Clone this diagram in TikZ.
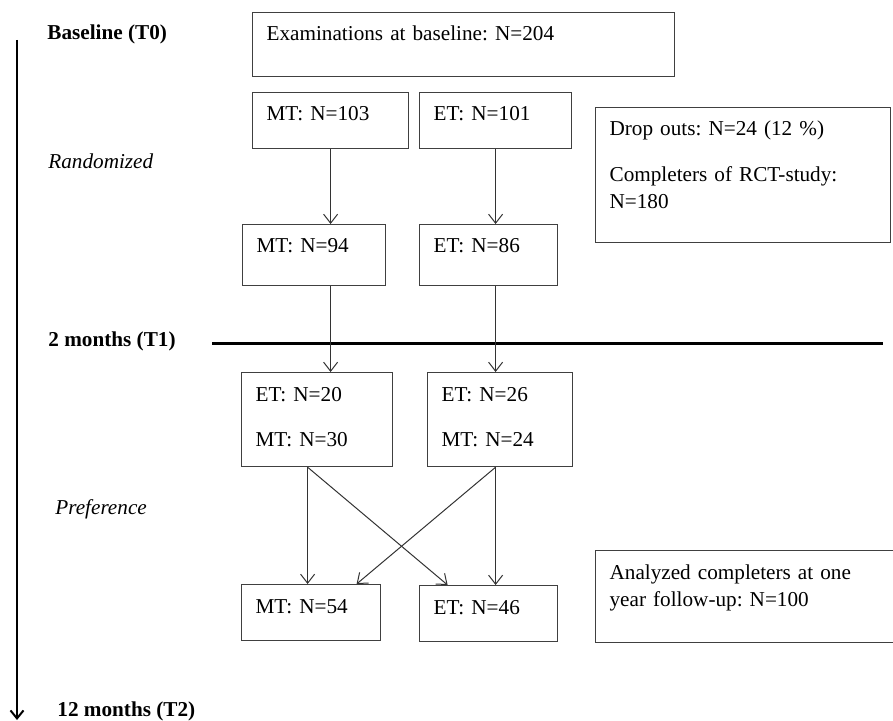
\documentclass[tikz,border=0pt]{standalone}
\usepackage{fontspec}
\setmainfont{Liberation Serif}
\usepackage{tikz}
\usetikzlibrary{arrows.meta,positioning}
\frenchspacing

\begin{document}
\begin{tikzpicture}[
  x=0.5pt, y=-0.5pt,
  font=\fontsize{10.6}{13.5}\selectfont,
  box/.style={draw=black!75, line width=0.6pt, anchor=north west, inner sep=7pt,
              align=left, text height=7.2pt},
  arr/.style={-{Straight Barb[length=4.5pt,width=7pt]}, draw=black!80, line width=0.5pt},
  axis/.style={-{Straight Barb[length=4pt,width=6.5pt]}, line width=1pt},
  phase/.style={anchor=base west, inner sep=0pt, font=\fontsize{10.6}{13.5}\selectfont\bfseries},
  stage/.style={anchor=base west, inner sep=0pt, font=\fontsize{10.6}{13.5}\selectfont\itshape}
]
\useasboundingbox (0,0) rectangle (893,721);

% Time axis
\coordinate (axtop) at (17,40);
\coordinate (axbot) at (17,720);
\draw[axis] (axtop) -- (axbot);
\node[phase] (t0) at (47,40) {Baseline (T0)};
\node[stage] (rand) at (48,169) {Randomized};
\node[phase] (t1) at (48,346) {2 months (T1)};
\node[stage] (pref) at (55,514) {Preference};
\node[phase] (t2) at (57,716) {12 months (T2)};

% Randomized part
\node[box, text width=197pt, text depth=10.8pt] (exam) at (252,12) {Examinations at baseline: N=204};
\node[box, text width=64pt, text depth=6.8pt] (mt0) at (252,92) {MT: N=103};
\node[box, text width=62pt, text depth=6.8pt] (et0) at (419,92) {ET: N=101};
\node[box, text width=133.5pt, text depth=46.3pt] (drop) at (595,107)
     {Drop outs: N=24 (12 \%)\\[9.5pt]Completers of RCT-study:\\N=180};
\node[box, text width=57.5pt, text depth=9.3pt] (mt1) at (242,224) {MT: N=94};
\node[box, text width=55pt, text depth=9.3pt] (et1) at (419,224) {ET: N=86};

% T1 line
\coordinate (sepl) at (212,344);
\coordinate (sepr) at (883,344);
\draw[line width=1.5pt] (sepl) -- (sepr);

% Preference part
\node[box, text width=61.5pt, text depth=25.8pt] (mix0) at (241,372) {ET: N=20\\[9pt]MT: N=30};
\node[box, text width=58.5pt, text depth=25.8pt] (mix1) at (427,372) {ET: N=26\\[9pt]MT: N=24};
\node[box, text width=55.5pt, text depth=6.8pt] (mt2) at (241,584) {MT: N=54};
\node[box, text width=55pt, text depth=6.8pt] (et2) at (419,585) {ET: N=46};
\node[box, text width=135pt, text depth=24.8pt] (anal) at (595,550)
     {Analyzed completers at one\\year follow-up: N=100};

% Edges
\draw[arr] (mt0.south) -- (mt0.south |- mt1.north);
\draw[arr] (et0.south) -- (et0.south |- et1.north);
\draw[arr] (mt0.south |- mt1.south) -- (mt0.south |- mix0.north);
\draw[arr] (et0.south |- et1.south) -- (et0.south |- mix1.north);
\draw[arr] ([xshift=-4.75pt]mix0.south) -- ([xshift=-4.75pt]mix0.south |- mt2.north);
\draw[arr] ([xshift=-4.75pt]mix0.south) -- ([xshift=-20.5pt]et2.north);
\draw[arr] ([xshift=-2.25pt]mix1.south) -- ([xshift=-2.25pt]mix1.south |- et2.north);
\draw[arr] ([xshift=-2.25pt]mix1.south) -- ([xshift=22.75pt]mt2.north);
\end{tikzpicture}
\end{document}
